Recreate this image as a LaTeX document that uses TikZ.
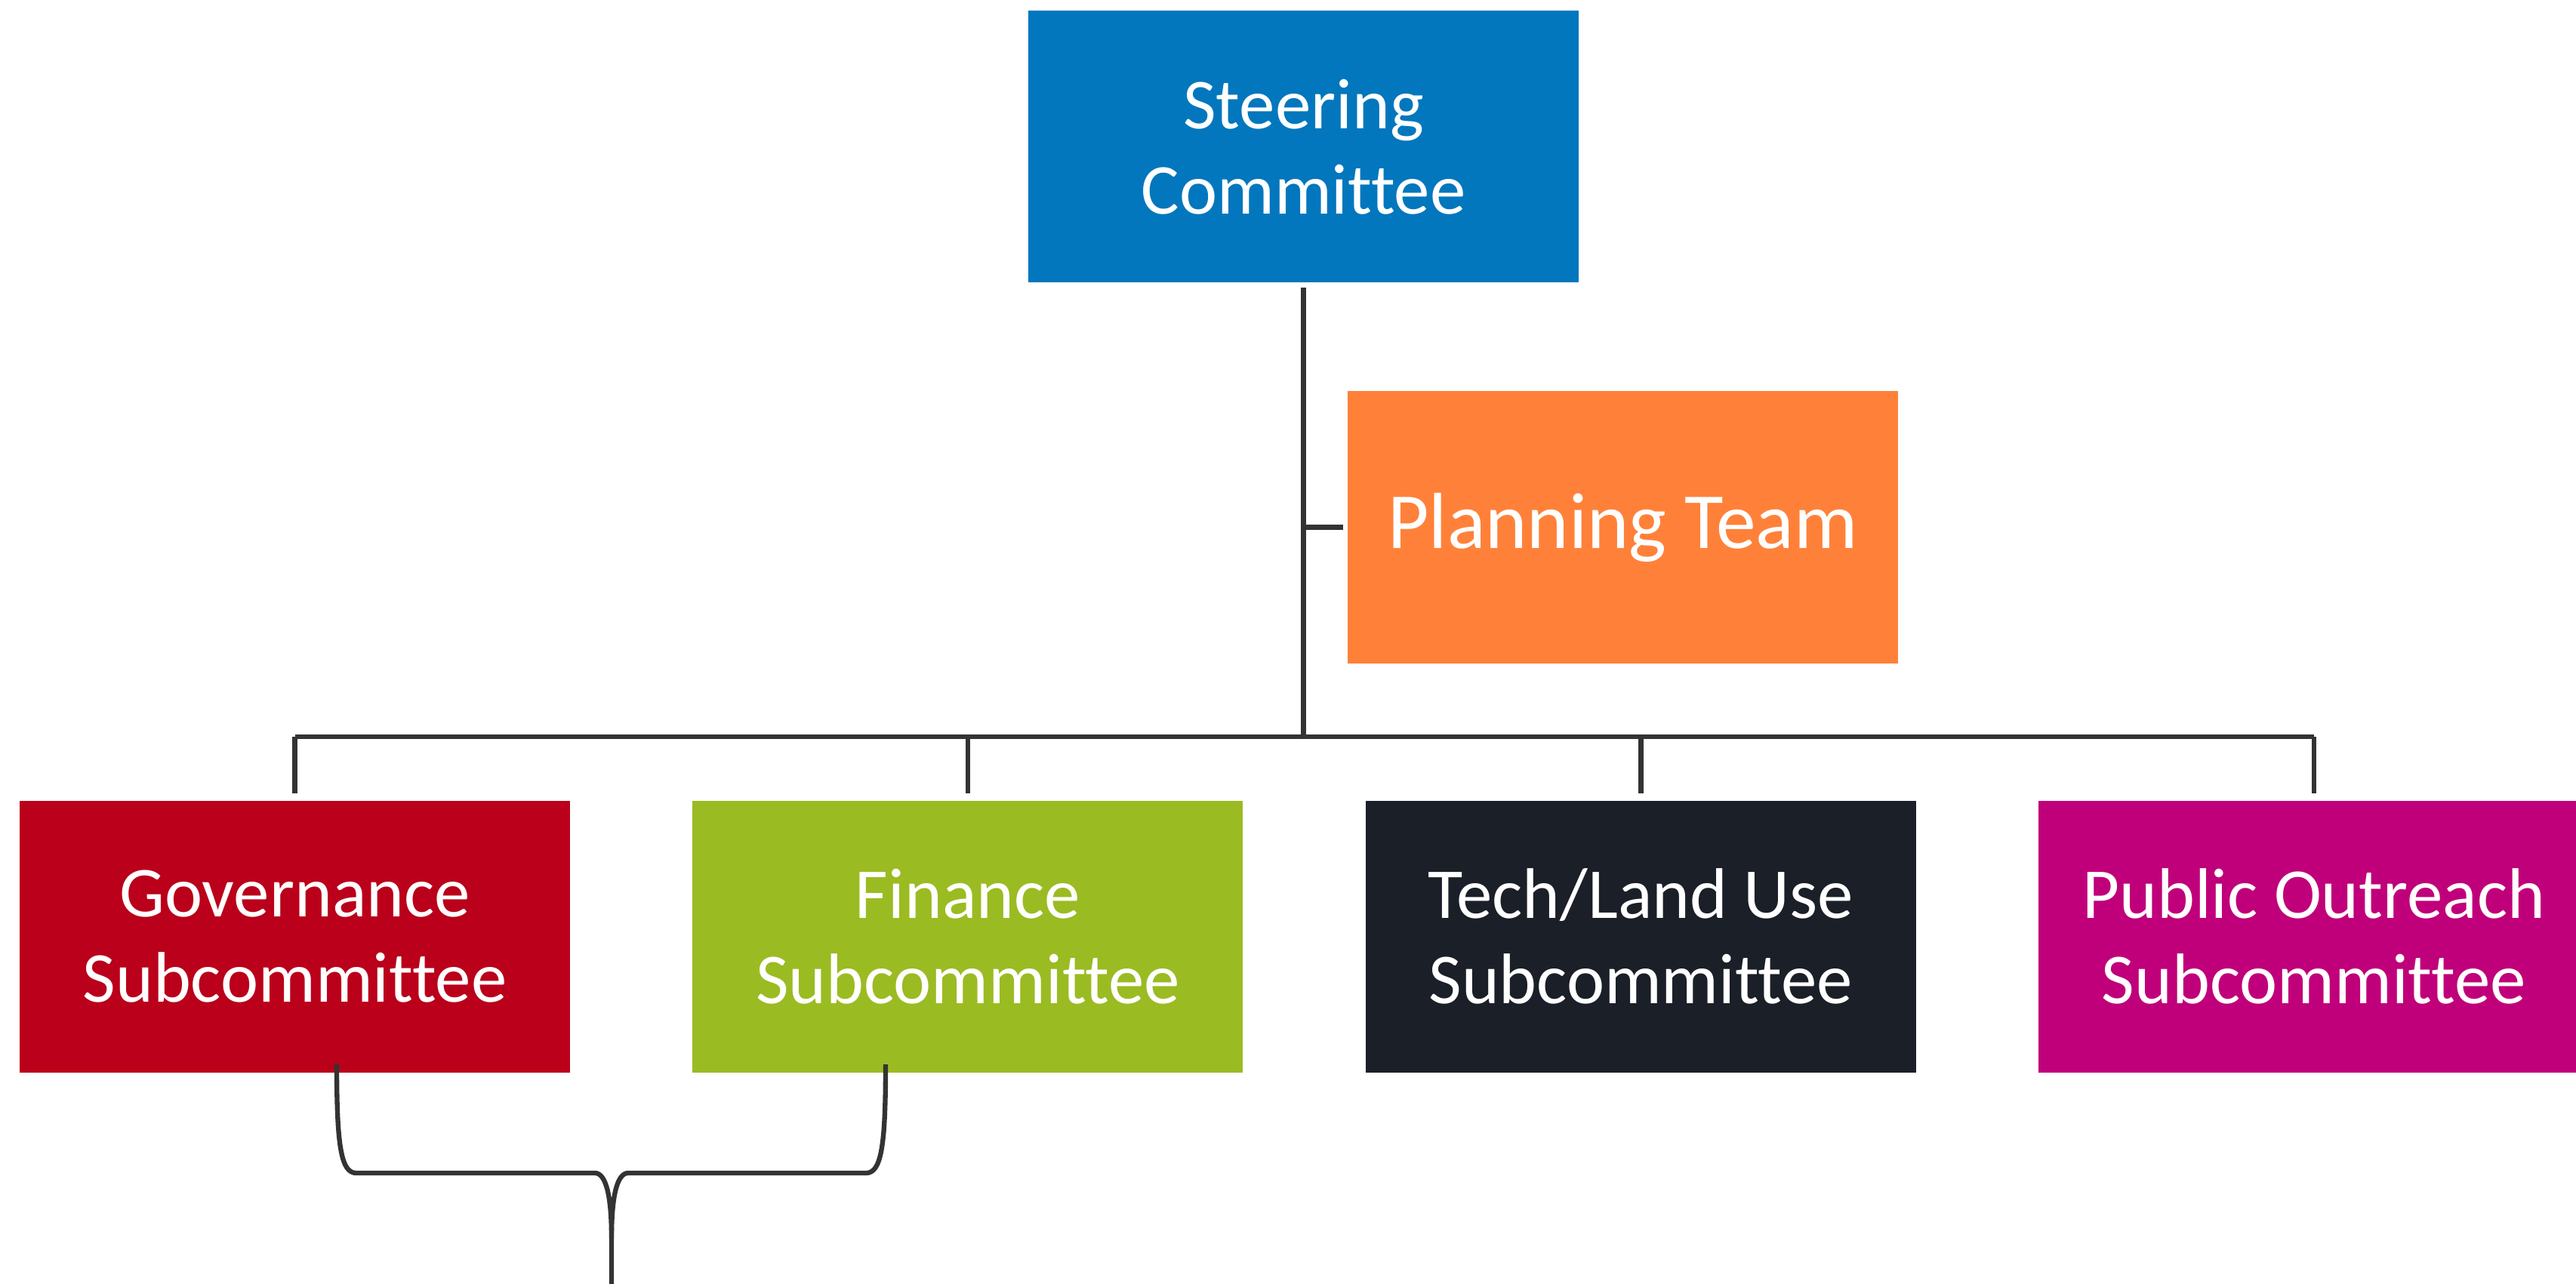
\documentclass[tikz,border=0pt]{standalone}
\usepackage{fontspec}
\setmainfont{Carlito}[Ligatures=NoCommon]
\usepackage{tikz}
\usetikzlibrary{positioning}
\definecolor{steerblue}{HTML}{0277BD}
\definecolor{planorange}{HTML}{FF8139}
\definecolor{govred}{HTML}{BA001A}
\definecolor{fingreen}{HTML}{9BBB22}
\definecolor{techdark}{HTML}{1A1F28}
\definecolor{pubpink}{HTML}{C0007A}
\definecolor{linegray}{HTML}{333333}

\begin{document}
\begin{tikzpicture}
    [every node/.style={rectangle, minimum width=7.29cm, minimum height=3.6cm,
       inner sep=0pt, align=center, text=white,
       font=\fontsize{27}{32}\selectfont},
     conn/.style={draw=linegray, line width=1.8pt},
     node distance=1.61cm]
    \useasboundingbox (0,0) rectangle (34.12,-17.01);

    \node (steer) [fill=steerblue] at (17.265,-1.945) {Steering\\Committee};
    \node (plan) [fill=planorange, font=\fontsize{30}{36}\selectfont] at (21.495,-6.985) {Planning Team};
    \node (gov) [fill=govred] at (3.905,-12.405) {Governance\\Subcommittee};
    \node (fin) [fill=fingreen, right = of gov] {Finance\\Subcommittee};
    \node (tech) [fill=techdark, right = of fin] {Tech/Land Use\\Subcommittee};
    \node (pub) [fill=pubpink, right = of tech] {Public Outreach\\Subcommittee};

    \coordinate (bus) at (17.265,-9.76);

    \draw[conn, shorten <= 0.06cm] (steer.south) -- (bus);
    \draw[conn, shorten <= 0.05cm] (plan.west) -- (plan.west -| bus);
    \draw[conn] (gov.north |- bus) -- (pub.north |- bus);
    \draw[conn, shorten >= 0.09cm] (gov.north |- bus) -- (gov.north);
    \draw[conn, shorten >= 0.09cm] (fin.north |- bus) -- (fin.north);
    \draw[conn, shorten >= 0.09cm] (tech.north |- bus) -- (tech.north);
    \draw[conn, shorten >= 0.09cm] (pub.north |- bus) -- (pub.north);

    % brace under the first two subcommittees
    \coordinate (bl) at (4.46,-14.10);
    \coordinate (br) at (11.73,-14.10);
    \coordinate (bm) at (8.10,-17.01);
    \draw[conn, line join=round] (bl) .. controls (4.46,-15.2) and (4.52,-15.54) .. (4.72,-15.54)
        -- (7.88,-15.54) .. controls (8.04,-15.54) and (8.10,-15.9) .. (8.10,-16.4) -- (bm);
    \draw[conn, line join=round] (br) .. controls (11.73,-15.2) and (11.67,-15.54) .. (11.47,-15.54)
        -- (8.32,-15.54) .. controls (8.16,-15.54) and (8.10,-15.9) .. (8.10,-16.4);
\end{tikzpicture}
\end{document}
